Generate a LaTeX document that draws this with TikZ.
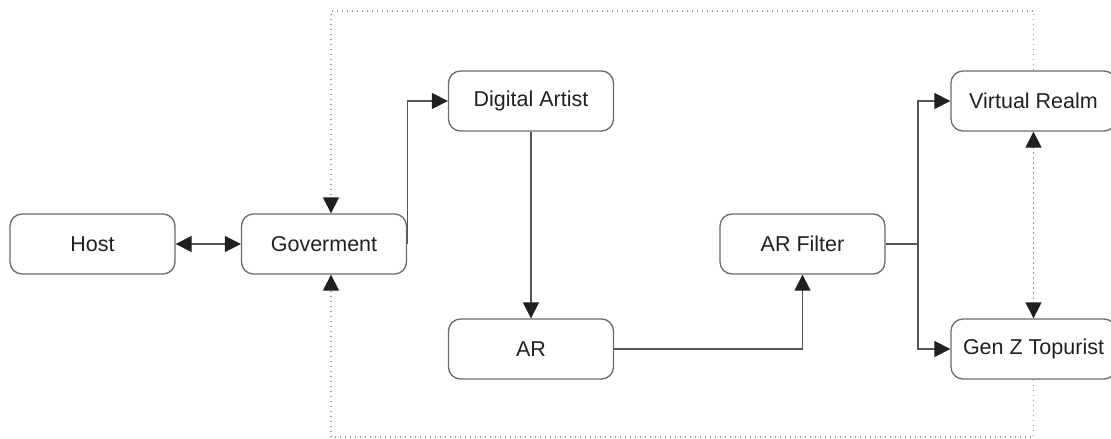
\documentclass[tikz,border=0pt]{standalone}
\usepackage{fontspec}
\setmainfont{Liberation Sans}
\usetikzlibrary{arrows.meta,calc}
\definecolor{boxc}{HTML}{6A6A6A}
\definecolor{linec}{HTML}{555555}
\definecolor{dotc}{HTML}{9A9A9A}
\definecolor{tipc}{HTML}{231F20}
\definecolor{textc}{HTML}{231F20}
\begin{document}
\begin{tikzpicture}[x=1pt,y=-1pt,
  box/.style={draw=boxc,line width=1.3pt,rounded corners=12pt,minimum width=165pt,minimum height=60pt,inner sep=0pt,
    text=textc,font=\fontsize{21.5}{26}\selectfont},
  tip/.tip={Triangle[length=16pt,width=16pt,color=tipc,fill=tipc]},
  conn/.style={draw=linec,line width=1.2pt},
  dotline/.style={draw=dotc,line width=1.3pt,dash pattern=on 1.3pt off 3.7pt}
]
\useasboundingbox (0,0) rectangle (1111,439);
\node[box] (host) at (92.5,244) {Host};
\node[box] (gov) at (324,244) {Goverment};
\node[box] (da) at (531,101) {Digital Artist};
\node[box] (ar) at (531,349) {AR};
\node[box] (arf) at (802.5,244) {AR Filter};
\node[box] (vr) at (1033.5,101) {Virtual Realm};
\node[box] (gz) at (1033.5,349) {Gen Z Topurist};
\coordinate (govt) at ($(gov.north)+(7,0)$);
\coordinate (govb) at ($(gov.south)+(7,0)$);
\coordinate (tl) at (govt |- 0,11);
\coordinate (tr) at (vr.north |- 0,11);
\coordinate (bl) at (govb |- 0,437);
\coordinate (br) at (gz.south |- 0,437);
\coordinate (split) at (918,244);
% dotted loop
\draw[dotline,-tip] (vr.north) -- (tr) -- (tl) -- (govt);
\draw[dotline,-tip] (gz.south) -- (br) -- (bl) -- (govb);
\draw[dotline,tip-tip] (vr.south) -- (gz.north);
% connectors
\draw[conn,tip-tip] (host.east) -- (gov.west);
\draw[conn,-tip] (gov.east) |- (da.west);
\draw[conn,-tip] (da.south) -- (ar.north);
\draw[conn,-tip] (ar.east) -| (arf.south);
\draw[conn] (arf.east) -- (split);
\draw[conn,-tip] (split) |- (vr.west);
\draw[conn,-tip] (split) |- (gz.west);
\end{tikzpicture}
\end{document}
